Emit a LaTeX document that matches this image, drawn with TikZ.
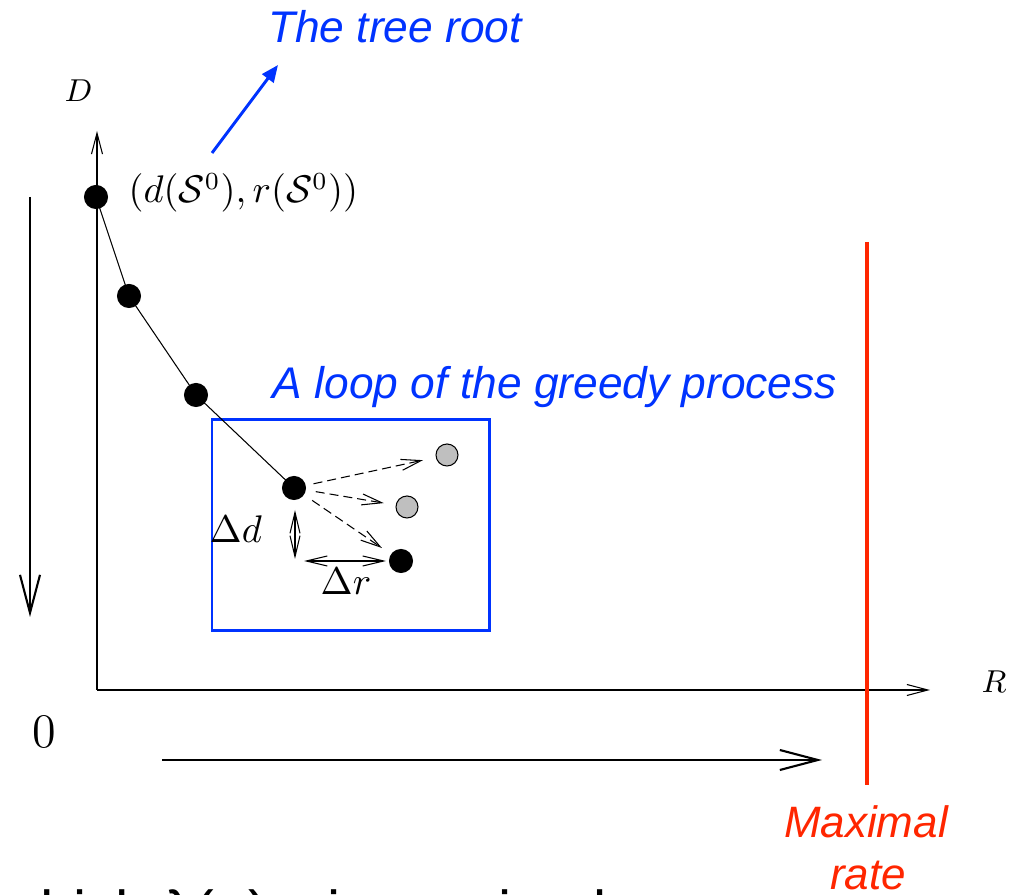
\documentclass[tikz,border=0pt]{standalone}
\usepackage{fontspec}
\newfontfamily\helv{Liberation Sans}
\usetikzlibrary{arrows.meta}
\definecolor{slideblue}{RGB}{0,51,255}
\definecolor{slidered}{RGB}{255,38,0}
\definecolor{dotgray}{RGB}{191,191,191}
\begin{document}
\begin{tikzpicture}[x=0.01cm,y=-0.01cm,
  thinline/.style={line width=0.3pt},
  dot/.style={circle,fill=black,draw=black,line width=0.3pt,inner sep=0pt,minimum size=0.23cm},
  gdot/.style={circle,fill=dotgray,draw=black,line width=0.3pt,inner sep=0pt,minimum size=0.22cm},
  axisarrow/.style={thinline,-{Straight Barb[length=0.21cm,width=0.11cm]}},
  bigarrow/.style={line width=0.6pt,-{Straight Barb[length=0.38cm,width=0.2cm]}},
  dasharrow/.style={thinline,dash pattern=on 0.09cm off 0.05cm,-{Straight Barb[length=0.2cm,width=0.11cm]}},
  dblarrow/.style={thinline,{Straight Barb[length=0.21cm,width=0.1cm]}-{Straight Barb[length=0.21cm,width=0.1cm]}},
  bluetext/.style={text=slideblue,font=\helv\itshape\fontsize{12.6}{15}\selectfont,inner sep=0pt},
  redtext/.style={text=slidered,font=\helv\itshape\fontsize{12.5}{15}\selectfont,inner sep=0pt},
  mathlabel/.style={inner sep=0pt,font=\fontsize{10.5}{12}\selectfont},
  axislabel/.style={inner sep=0pt,font=\fontsize{9.1}{11}\selectfont},
  deltalabel/.style={inner sep=0pt,font=\fontsize{10.8}{13}\selectfont},
  bigtext/.style={inner sep=0pt,font=\helv\fontsize{16.8}{20}\selectfont,anchor=base west},
]
\useasboundingbox (0,0) rectangle (1012,895);
\clip (0,0) rectangle (1012,895);

% axes
\coordinate (origin) at (97,690);
\coordinate (ytip) at (97,131);
\coordinate (xtip) at (930,690);
\draw[axisarrow] (origin) -- (ytip);
\draw[axisarrow] (origin) -- (xtip);
\node[axislabel,anchor=base west] (Dlab) at (64,102) {$D$};
\node[axislabel,anchor=base west] (Rlab) at (981,693) {$R$};

% big arrows
\coordinate (ltop) at (30,197);
\coordinate (lbot) at (30,617);
\draw[bigarrow] (ltop) -- (lbot);
\coordinate (bleft) at (162,760);
\coordinate (bright) at (822,760);
\draw[bigarrow] (bleft) -- (bright);
\node[inner sep=0pt,font=\fontsize{13.7}{16}\selectfont,anchor=base west] (zero) at (32,748) {0};

% red line
\coordinate (rtop) at (867,242);
\coordinate (rbot) at (867,785);
\draw[slidered,line width=1.1pt] (rtop) -- (rbot);
\node[redtext,anchor=base] (maxlab) at (866,838) {Maximal};
\node[redtext,anchor=base] (ratelab) at (868,890) {rate};

% blue box
\draw[slideblue,line width=0.85pt] (212,420) rectangle (489,631);
\node[bluetext,anchor=base] (looplab) at (555,399) {A loop of the greedy process};

% curve and dots
\draw[thinline] (96,197) -- (129,296) -- (196,395) -- (294,488);
\node[dot] (p1) at (96,197) {};
\node[dot] (p2) at (129,296) {};
\node[dot] (p3) at (196,395) {};
\node[dot] (p4) at (294,488) {};
\node[gdot] (g1) at (447,455) {};
\node[gdot] (g2) at (407,507) {};
\node[dot] (b5) at (401,561) {};

\draw[dasharrow,shorten <=0.08cm,shorten >=0.13cm] (p4) -- (g1);
\draw[dasharrow,shorten <=0.1cm,shorten >=0.12cm] (p4) -- (g2);
\draw[dasharrow,shorten <=0.1cm,shorten >=0.11cm] (p4) -- (b5);

% delta arrows
\coordinate (ddtop) at (295,510);
\coordinate (ddbot) at (295,559);
\draw[dblarrow] (ddtop) -- (ddbot);
\coordinate (drleft) at (304,561);
\coordinate (drright) at (386,561);
\draw[dblarrow] (drleft) -- (drright);
\node[deltalabel,anchor=base west] (dd) at (209,543) {$\Delta d$};
\node[deltalabel,anchor=base west] (dr) at (320,595) {$\Delta r$};

% root label
\node[mathlabel,anchor=base west] (rootlab) at (128,203) {$(d(\mathcal{S}^0),r(\mathcal{S}^0))$};
\node[bluetext,anchor=base] (treeroot) at (395,43) {The tree root};
\coordinate (bastart) at (212,153);
\coordinate (batip) at (278,65);
\draw[slideblue,line width=0.85pt,-{Triangle[length=0.17cm,width=0.14cm]}] (bastart) -- (batip);

% cut-off bottom text
\node[bigtext] (bottomtext1) at (-3,933) {which λ(α)};
\node[bigtext] (bottomtext2) at (327,933) {is maximal};
\end{tikzpicture}
\end{document}
